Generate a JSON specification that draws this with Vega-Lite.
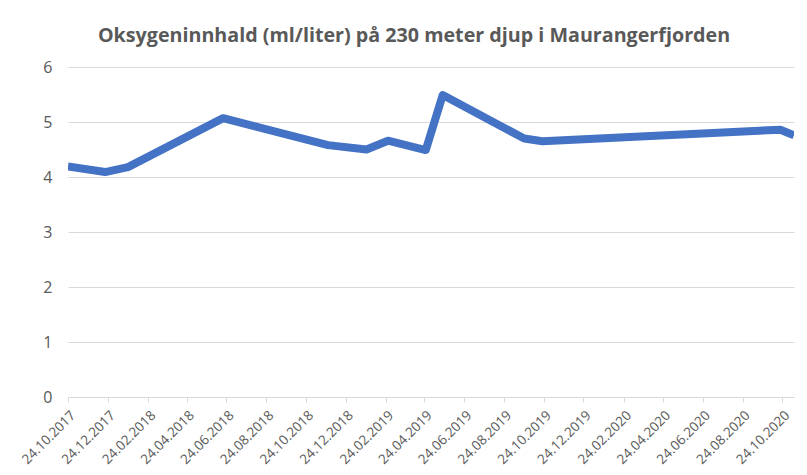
{
  "$schema": "https://vega.github.io/schema/vega-lite/v6.json",
  "width": 726,
  "height": 330,
  "autosize": {"type": "none"},
  "padding": {"left": 68, "top": 67, "right": 13, "bottom": 78},
  "background": "white",
  "title": {
    "text": "Oksygeninnhald (ml/liter) på 230 meter djup i Maurangerfjorden",
    "font": "Open Sans",
    "fontSize": 19.7,
    "fontWeight": "bold",
    "color": "#595959",
    "anchor": "middle",
    "dx": -17,
    "offset": 13
  },
  "data": {
    "values": [
      {"dato": "2017-10-24", "oksygen": 4.19},
      {"dato": "2017-12-20", "oksygen": 4.09},
      {"dato": "2018-01-24", "oksygen": 4.18},
      {"dato": "2018-06-19", "oksygen": 5.07},
      {"dato": "2018-11-27", "oksygen": 4.58},
      {"dato": "2019-01-25", "oksygen": 4.50},
      {"dato": "2019-02-27", "oksygen": 4.66},
      {"dato": "2019-04-26", "oksygen": 4.49},
      {"dato": "2019-05-22", "oksygen": 5.49},
      {"dato": "2019-09-24", "oksygen": 4.70},
      {"dato": "2019-10-22", "oksygen": 4.65},
      {"dato": "2020-10-21", "oksygen": 4.86},
      {"dato": "2020-11-11", "oksygen": 4.76}
    ]
  },
  "mark": {
    "type": "line",
    "color": "#4472C4",
    "strokeWidth": 8,
    "strokeJoin": "round",
    "strokeCap": "butt",
    "clip": true
  },
  "encoding": {
    "x": {
      "field": "dato",
      "type": "temporal",
      "scale": {
        "type": "utc",
        "domain": [
          {"year": 2017, "month": 10, "date": 24, "utc": true},
          {"year": 2020, "month": 11, "date": 11, "utc": true}
        ]
      },
      "axis": {
        "title": null,
        "values": [
          {"year": 2017, "month": 10, "date": 24, "utc": true},
          {"year": 2017, "month": 12, "date": 24, "utc": true},
          {"year": 2018, "month": 2, "date": 24, "utc": true},
          {"year": 2018, "month": 4, "date": 24, "utc": true},
          {"year": 2018, "month": 6, "date": 24, "utc": true},
          {"year": 2018, "month": 8, "date": 24, "utc": true},
          {"year": 2018, "month": 10, "date": 24, "utc": true},
          {"year": 2018, "month": 12, "date": 24, "utc": true},
          {"year": 2019, "month": 2, "date": 24, "utc": true},
          {"year": 2019, "month": 4, "date": 24, "utc": true},
          {"year": 2019, "month": 6, "date": 24, "utc": true},
          {"year": 2019, "month": 8, "date": 24, "utc": true},
          {"year": 2019, "month": 10, "date": 24, "utc": true},
          {"year": 2019, "month": 12, "date": 24, "utc": true},
          {"year": 2020, "month": 2, "date": 24, "utc": true},
          {"year": 2020, "month": 4, "date": 24, "utc": true},
          {"year": 2020, "month": 6, "date": 24, "utc": true},
          {"year": 2020, "month": 8, "date": 24, "utc": true},
          {"year": 2020, "month": 10, "date": 24, "utc": true}
        ],
        "labelExpr": "utcFormat(datum.value, '%d.%m.%Y')",
        "labelAngle": -45,
        "labelFont": "Open Sans",
        "labelFontSize": 13.5,
        "labelColor": "#595959",
        "labelPadding": 6,
        "labelOverlap": false,
        "labelFlush": false,
        "grid": false,
        "domainColor": "#d9d9d9",
        "domainWidth": 1,
        "tickColor": "#d9d9d9",
        "tickSize": 5
      }
    },
    "y": {
      "field": "oksygen",
      "type": "quantitative",
      "scale": {"domain": [0, 6], "nice": false, "zero": true},
      "axis": {
        "title": null,
        "values": [0, 1, 2, 3, 4, 5, 6],
        "format": "d",
        "domain": false,
        "ticks": false,
        "labelFont": "Open Sans",
        "labelFontSize": 16,
        "labelColor": "#595959",
        "labelPadding": 16,
        "gridColor": "#d9d9d9",
        "gridWidth": 1
      }
    }
  },
  "config": {
    "view": {"stroke": null}
  }
}
